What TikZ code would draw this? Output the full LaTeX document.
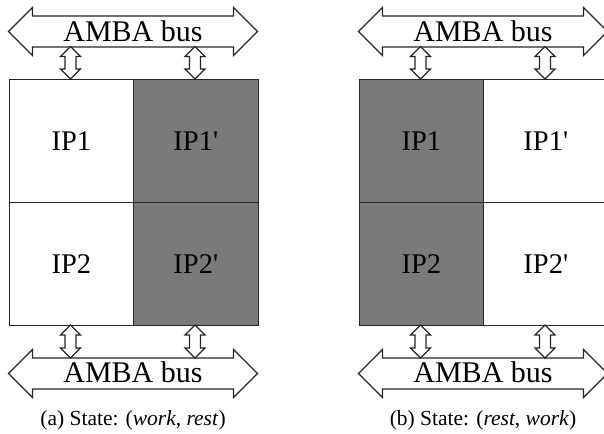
\documentclass[tikz,border=0pt]{standalone}
\usepackage{fontspec}
\setmainfont{Liberation Serif}
\definecolor{boxgray}{RGB}{122,122,122}
\tikzset{
  ipbox/.style={draw=black!85, line width=1.2pt, minimum width=124.5pt, minimum height=123pt, inner sep=0pt, font=\fontsize{28.5}{30}\selectfont, anchor=north west},
  work/.style={fill=white},
  rest/.style={fill=boxgray},
  busarrow/.style={draw=black!85, line width=1.2pt, fill=white, line join=miter},
  bustext/.style={font=\fontsize{30}{32}\selectfont, anchor=base, inner sep=0pt},
  captext/.style={font=\fontsize{21.5}{24}\selectfont, anchor=base, inner sep=0pt}
}
% horizontal double arrow: #1 = left tip x, #2 = right tip x, #3 = centre y
\newcommand\hbus[3]{%
  \draw[busarrow] (#1,#3) -- ++(24,-24) -- ++(0,8.5) -- ({#2-24},{#3-15.5}) -- ++(0,-8.5) -- (#2,#3)
    -- ({#2-24},{#3+24}) -- ++(0,-8.5) -- ({#1+24},{#3+15.5}) -- ++(0,8.5) -- cycle;}
% vertical double arrow: #1 = x, #2 = top y, #3 = bottom y
\newcommand\vlink[3]{%
  \draw[busarrow, line width=1.1pt] (#1,#2) -- ({#1+10},{#2+10}) -- ({#1+5.5},{#2+10}) -- ({#1+5.5},{#3-10}) -- ({#1+10},{#3-10}) -- (#1,#3)
    -- ({#1-10},{#3-10}) -- ({#1-5.5},{#3-10}) -- ({#1-5.5},{#2+10}) -- ({#1-10},{#2+10}) -- cycle;}
\newcommand\prm{\textquotesingle}
\begin{document}
\begin{tikzpicture}[x=1pt,y=-1pt]
\useasboundingbox (0,0) rectangle (604,433);
% ---------- panel (a)
\node[ipbox, work] (a11) at (8.5,79) {IP1};
\node[ipbox, rest] (a12) at (133,79) {IP1\prm};
\node[ipbox, work] (a21) at (8.5,202) {IP2};
\node[ipbox, rest] (a22) at (133,202) {IP2\prm};
\hbus{8.5}{257.5}{31.5}
\node[bustext] (abusT) at (133,41.7) {AMBA bus};
\vlink{70.5}{46.5}{79}
\vlink{195}{46.5}{79}
\hbus{8.5}{257.5}{373.5}
\node[bustext] (abusB) at (133,382.7) {AMBA bus};
\vlink{70.5}{325}{358}
\vlink{195}{325}{358}
\node[captext] (capa) at (133,425) {(a) State: (\textit{work}, \textit{rest})};
% ---------- panel (b)
\node[ipbox, rest] (b11) at (358.5,79) {IP1};
\node[ipbox, work] (b12) at (483,79) {IP1\prm};
\node[ipbox, rest] (b21) at (358.5,202) {IP2};
\node[ipbox, work] (b22) at (483,202) {IP2\prm};
\hbus{358.5}{607.5}{31.5}
\node[bustext] (bbusT) at (483,41.7) {AMBA bus};
\vlink{420.5}{46.5}{79}
\vlink{545}{46.5}{79}
\hbus{358.5}{607.5}{373.5}
\node[bustext] (bbusB) at (483,382.7) {AMBA bus};
\vlink{420.5}{325}{358}
\vlink{545}{325}{358}
\node[captext] (capb) at (483,425) {(b) State: (\textit{rest}, \textit{work})};
\end{tikzpicture}
\end{document}
